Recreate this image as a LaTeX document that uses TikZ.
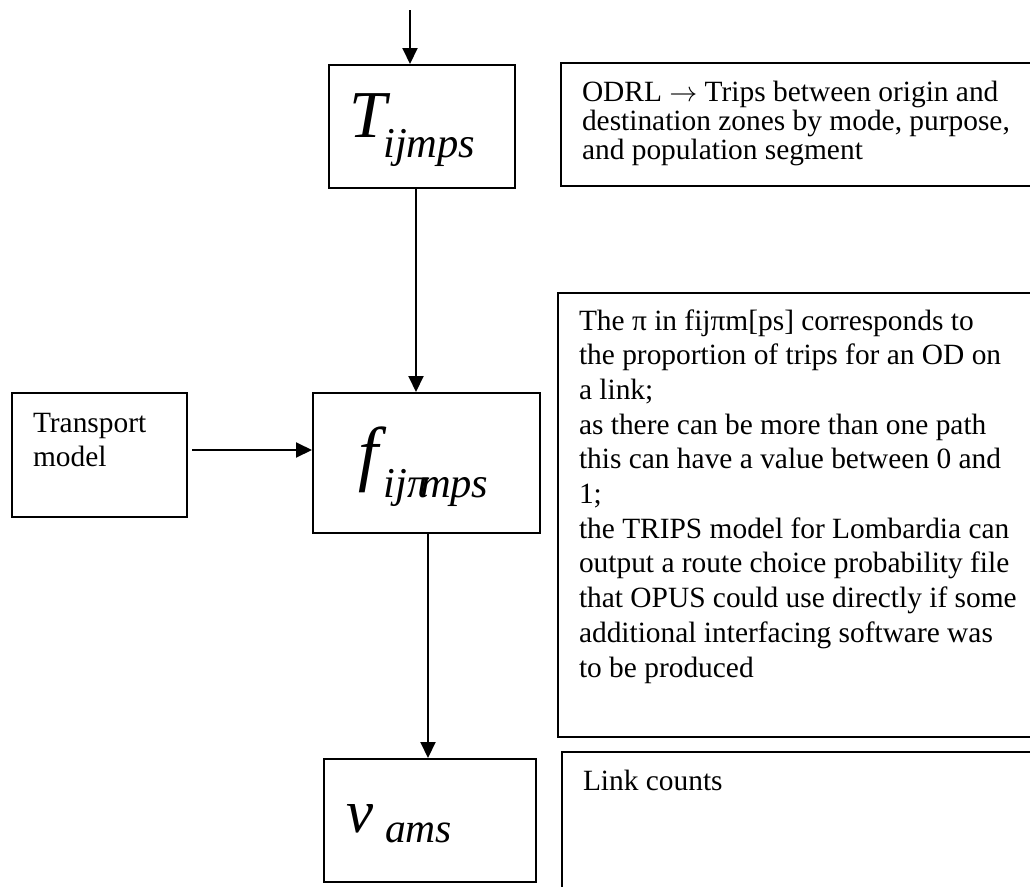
\documentclass[tikz,border=0pt]{standalone}
\usepackage{fontspec}
\setmainfont{Liberation Serif}
\usetikzlibrary{arrows.meta}

% text sizes (1pt = one unit of the drawing grid)
\newcommand\notefont{\fontsize{29.4}{34.7}\selectfont}
\newcommand\tightnotefont{\fontsize{29.4}{29.3}\selectfont}
\newcommand\symfont[1]{\fontsize{#1}{#1}\selectfont\itshape}
\newcommand\lines[1]{\begin{tabular}[t]{@{}l@{}}#1\end{tabular}}
\newcommand\yields{\resizebox{28pt}{!}{$\rightarrow$}}

\begin{document}
\begin{tikzpicture}[x=1pt,y=-1pt,
  box/.style={draw,line width=2pt,rectangle,inner sep=0pt},
  flow/.style={line width=2pt,-{Triangle[length=16pt,width=15pt]}},
  note/.style={anchor=base west,inner sep=0pt,outer sep=0pt},
]
\useasboundingbox (0,0) rectangle (1030,886);
\clip (0,0) rectangle (1030,886);

% variable boxes
\node[box,minimum width=186,minimum height=123] (T) at (422,126.5) {};
\node[box,minimum width=175,minimum height=124] (transport) at (99.5,455) {};
\node[box,minimum width=227,minimum height=140] (f) at (426.5,463) {};
\node[box,minimum width=212,minimum height=123] (v) at (430,820.5) {};

% explanatory boxes on the right
\node[box,minimum width=484,minimum height=123] (odrl) at (803,124.5) {};
\node[box,minimum width=487,minimum height=444] (pinote) at (801.5,515) {};
\node[box,minimum width=483,minimum height=148] (linknote) at (803.5,826) {};

% symbols
\node[note] (Tsym) at (349,137)
  {\symfont{67}T\kern-3pt\raisebox{-20pt}{\symfont{42.5}ijmps}};
\node[note] (fsym) at (358.6,477)
  {\symfont{72}f\kern5pt\raisebox{-20pt}{\symfont{42.5}ij\rlap{π}\kern0.3em mps}};
\node[note] (vsym) at (346,832)
  {\symfont{61}v\kern12pt\raisebox{-10pt}{\symfont{41.6}ams}};

% texts
\node[note,font=\notefont] (transporttext) at (33,432)
  {\lines{Transport\\model}};
\node[note,font=\tightnotefont] (odrltext) at (582,101)
  {\lines{ODRL \yields{} Trips between origin and\\destination zones by mode, purpose,\\and population segment}};
\node[note,font=\notefont] (pitext) at (579,330)
  {\lines{The π in fijπm[ps] corresponds to\\
   the proportion of trips for an OD on\\
   a link;\\
   as there can be more than one path\\
   this can have a value between 0 and\\
   1;\\
   the TRIPS model for Lombardia can\\
   output a route choice probability file\\
   that OPUS could use directly if some\\
   additional interfacing software was\\
   to be produced}};
\node[note,font=\notefont] (linktext) at (583,790) {Link counts};

% connectors
\coordinate (input) at (410,10);
\draw[flow] (input) -- ([xshift=-12pt]T.north);
\draw[flow] ([xshift=-6pt]T.south) -- ([xshift=-10.5pt]f.north);
\draw[flow] ([xshift=4pt,yshift=5pt]transport.east) -- ([yshift=13pt]f.west);
\draw[flow] ([xshift=1.5pt]f.south) -- ([xshift=-2pt]v.north);
\end{tikzpicture}
\end{document}
